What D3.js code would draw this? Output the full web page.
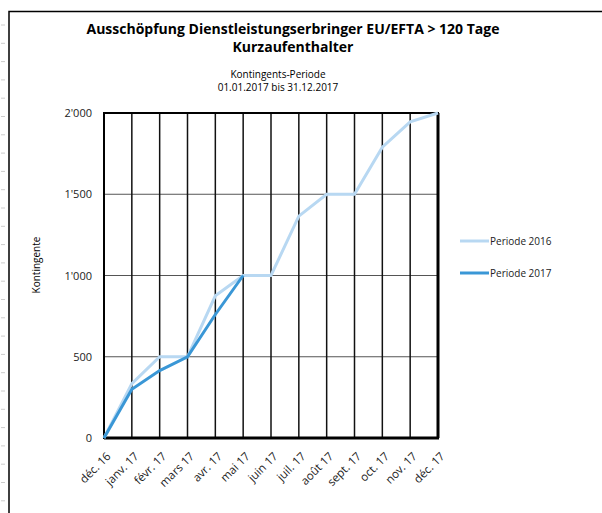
<!DOCTYPE html>
<html>
<head>
<meta charset="utf-8">
<script src="https://cdn.jsdelivr.net/npm/d3@7"></script>
<style>
  body { margin: 0; background: #fff; }
  svg { display: block; font-family: "Open Sans", "Noto Sans", sans-serif; }
</style>
</head>
<body>
<div id="chart"></div>
<script>
// months on the x axis
var months = ["déc. 16", "janv. 17", "févr. 17", "mars 17", "avr. 17", "mai 17", "juin 17",
              "juil. 17", "août 17", "sept. 17", "oct. 17", "nov. 17", "déc. 17"];
var periode2016 = [0, 335, 500, 500, 875, 1000, 1000, 1365, 1500, 1500, 1790, 1945, 2000];
var periode2017 = [0, 300, 415, 500, 760, 1000];
var yTicks = [0, 500, 1000, 1500, 2000];
var seriesNames = ["Periode 2016", "Periode 2017"];

var width = 602, height = 513;
var margin = {top: 113, right: 164, bottom: 75, left: 104};

var svg = d3.select("#chart").append("svg")
    .attr("width", width)
    .attr("height", height);

// outer frame (left + top)
svg.append("path")
    .attr("d", "M9,513 V11.5 H602")
    .attr("fill", "none")
    .attr("stroke", "#000")
    .attr("stroke-width", 1.5);

// little grey marks left of the frame
d3.range(25, 513, 18.3).forEach(function(y){
    svg.append("line")
        .attr("x1", 1).attr("x2", 5)
        .attr("y1", y).attr("y2", y)
        .attr("stroke", "#ccc");
});

svg.append("text")
    .attr("x", 293).attr("y", 34)
    .attr("text-anchor", "middle")
    .style("font-size", "14px")
    .style("font-weight", "bold")
    .text("Ausschöpfung Dienstleistungserbringer EU/EFTA > 120 Tage");
svg.append("text")
    .attr("x", 293).attr("y", 52)
    .attr("text-anchor", "middle")
    .style("font-size", "14px")
    .style("font-weight", "bold")
    .text("Kurzaufenthalter");

svg.append("text")
    .attr("x", 278).attr("y", 78)
    .attr("text-anchor", "middle")
    .style("font-size", "10px")
    .text("Kontingents-Periode");
svg.append("text")
    .attr("x", 278).attr("y", 91)
    .attr("text-anchor", "middle")
    .style("font-size", "10px")
    .text("01.01.2017 bis 31.12.2017");

var x = d3.scalePoint()
    .domain(months)
    .range([margin.left, width - margin.right]);

var y = d3.scaleLinear()
    .domain([0, 2000])
    .range([height - margin.bottom, margin.top]);

var fmt = function(v){ return d3.format(",")(v).replace(",", "'"); };

// horizontal grid
svg.append("g")
    .selectAll("line")
    .data(yTicks)
    .enter().append("line")
    .attr("x1", margin.left).attr("x2", width - margin.right)
    .attr("y1", function(d){ return y(d); })
    .attr("y2", function(d){ return y(d); })
    .attr("stroke", "#555")
    .attr("stroke-width", 1);

// vertical grid
svg.append("g")
    .selectAll("line")
    .data(months)
    .enter().append("line")
    .attr("x1", function(d){ return x(d); })
    .attr("x2", function(d){ return x(d); })
    .attr("y1", margin.top).attr("y2", height - margin.bottom)
    .attr("stroke", "#111")
    .attr("stroke-width", 1.5);

// plot border
svg.append("rect")
    .attr("x", margin.left).attr("y", margin.top)
    .attr("width", width - margin.right - margin.left)
    .attr("height", height - margin.bottom - margin.top)
    .attr("fill", "none")
    .attr("stroke", "#000")
    .attr("stroke-width", 2);
svg.append("line")
    .attr("x1", margin.left).attr("x2", width - margin.right + 1)
    .attr("y1", y(0)).attr("y2", y(0))
    .attr("stroke", "#000")
    .attr("stroke-width", 3);
svg.append("line")
    .attr("x1", width - margin.right).attr("x2", width - margin.right)
    .attr("y1", margin.top).attr("y2", y(0))
    .attr("stroke", "#000")
    .attr("stroke-width", 3);

// y axis labels
var yAxis = svg.append("g")
    .attr("transform", "translate(" + margin.left + ",0)")
    .call(d3.axisLeft(y).tickValues(yTicks).tickFormat(fmt).tickSize(0).tickPadding(12));
yAxis.select(".domain").remove();
yAxis.selectAll("text")
    .style("font-family", "'Open Sans', sans-serif")
    .style("font-size", "11px")
    .attr("fill", "#222");

svg.append("text")
    .attr("transform", "translate(40," + 265 + ") rotate(-90)")
    .attr("text-anchor", "middle")
    .style("font-size", "10px")
    .text("Kontingente");

// x axis labels
var xAxis = svg.append("g")
    .attr("transform", "translate(0," + y(0) + ")")
    .call(d3.axisBottom(x).tickSize(0).tickPadding(0));
xAxis.select(".domain").remove();
xAxis.selectAll("text")
    .style("font-family", "'Open Sans', sans-serif")
    .style("font-size", "11.5px")
    .attr("fill", "#222")
    .attr("text-anchor", "end")
    .attr("x", 0).attr("y", 0).attr("dy", 0)
    .attr("transform", "translate(7,19) rotate(-45)");

var line = d3.line()
    .x(function(d, i){ return x(months[i]); })
    .y(function(d){ return y(d); });

var colors = ["#b8d8f2", "#3a97d6"];

svg.append("path")
    .datum(periode2016)
    .attr("d", line)
    .attr("fill", "none")
    .attr("stroke", colors[0])
    .attr("stroke-width", 3);

svg.append("path")
    .datum(periode2017)
    .attr("d", line)
    .attr("fill", "none")
    .attr("stroke", colors[1])
    .attr("stroke-width", 3);

// legend
var legend = svg.append("g")
    .selectAll("g")
    .data(seriesNames)
    .enter().append("g")
    .attr("transform", function(d, i){ return "translate(460," + (241 + i * 32) + ")"; });
legend.append("line")
    .attr("x1", 0).attr("x2", 29)
    .attr("stroke", function(d, i){ return colors[i]; })
    .attr("stroke-width", 3);
legend.append("text")
    .attr("x", 30).attr("dy", "0.35em")
    .style("font-size", "10px")
    .attr("fill", "#222")
    .text(function(d){ return d; });
</script>
</body>
</html>
